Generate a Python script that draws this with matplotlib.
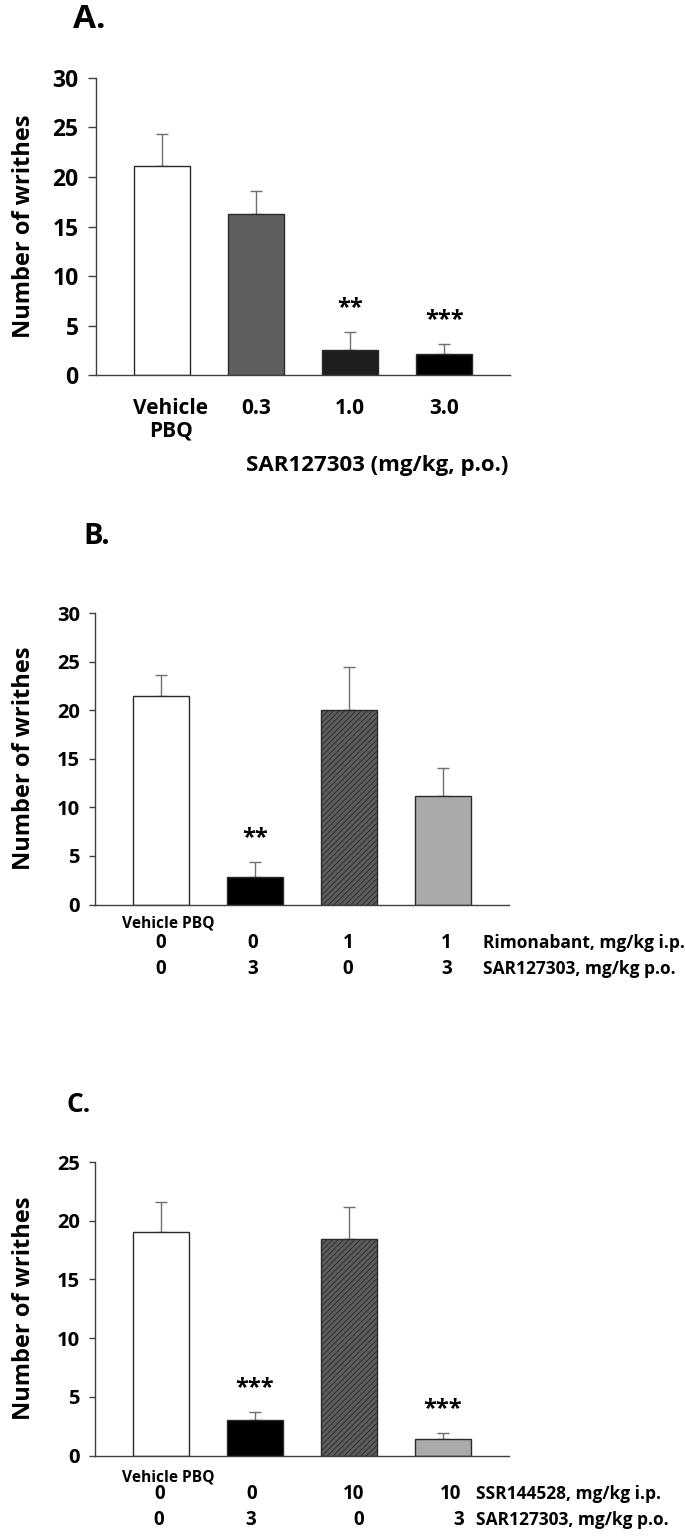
import matplotlib
matplotlib.use("Agg")
import matplotlib.pyplot as plt
import matplotlib.transforms as mtransforms

# ---------------- data ----------------
a_labels = ["Vehicle\nPBQ", "0.3", "1.0", "3.0"]
a_means = [21.1, 16.3, 2.6, 2.1]
a_sem = [3.2, 2.3, 1.8, 1.1]
a_sig = ["", "", "**", "***"]
a_xlabel = "SAR127303 (mg/kg, p.o.)"

b_means = [21.5, 2.8, 20.0, 11.2]
b_sem = [2.1, 1.6, 4.4, 2.8]
b_sig = ["", "**", "", ""]
b_row1 = ["0", "0", "1", "1"]
b_row2 = ["0", "3", "0", "3"]
b_row1_name = "Rimonabant, mg/kg i.p."
b_row2_name = "SAR127303, mg/kg p.o."

c_means = [19.0, 3.0, 18.4, 1.4]
c_sem = [2.6, 0.7, 2.8, 0.5]
c_sig = ["", "***", "", "***"]
c_row1 = ["0", "0", "10", "10"]
c_row2 = ["0", "3", "0", "3"]
c_row1_name = "SSR144528, mg/kg i.p."
c_row2_name = "SAR127303, mg/kg p.o."

vehicle_label = "Vehicle PBQ"
ylabel = "Number of writhes"

# ---------------- style ----------------
W, H = 685, 1538
plt.rcParams['font.family'] = ['Open Sans', 'DejaVu Sans']
plt.rcParams['font.weight'] = 'bold'
plt.rcParams['hatch.linewidth'] = 0.6

fig = plt.figure(figsize=(W / 100, H / 100), dpi=100)

def px_axes(left, top, right, bottom):
    return fig.add_axes([left / W, 1 - bottom / H, (right - left) / W, (bottom - top) / H])

def shift(px):
    return mtransforms.ScaledTranslation(px / 100, 0, fig.dpi_scale_trans)

spine_col = '#404040'
err_col = '#707070'

def style_axes(ax, ymax, step, tick_fs, tlen, tpad):
    ax.set_ylim(0, ymax)
    ax.set_xlim(-0.7, 3.7)
    ax.set_yticks(range(0, ymax + 1, step))
    for s in ['top', 'right']:
        ax.spines[s].set_visible(False)
    for s in ['left', 'bottom']:
        ax.spines[s].set_color(spine_col)
        ax.spines[s].set_linewidth(1.0)
    ax.tick_params(axis='y', direction='out', length=tlen, width=1.0, color=spine_col,
                   labelsize=tick_fs, pad=tpad)
    ax.tick_params(axis='x', length=0)
    for t in ax.get_yticklabels():
        t.set_fontweight('bold')

def draw_bars(ax, means, sem, colors, hatches):
    x = range(len(means))
    bars = ax.bar(x, means, width=0.6, color=colors, edgecolor='#2a2a2a',
                  linewidth=1.0, zorder=2)
    for b, h in zip(bars, hatches):
        if h:
            b.set_hatch(h)
    ax.errorbar(list(x), means, yerr=[[0] * len(means), sem], fmt='none',
                ecolor=err_col, elinewidth=1.0, capsize=4.5, capthick=1.0, zorder=1)

def draw_sig(ax, means, sem, sig, fs):
    for i, (m, e, s) in enumerate(zip(means, sem, sig)):
        if s:
            ax.annotate(s, (i, m + e), xytext=(0, 17), textcoords='offset points',
                        ha='center', va='center', fontsize=fs, fontweight='bold')

def set_ylabel(ax, left, width):
    ax.set_ylabel(ylabel, fontsize=17, fontweight='bold')
    ax.yaxis.set_label_coords((36 - left) / width, 0.5)

# ---------------- Panel A ----------------
axA = px_axes(96, 77.7, 510, 375.3)
draw_bars(axA, a_means, a_sem, ['white', '#5f5f5f', '#1e1e1e', 'black'], [None] * 4)
style_axes(axA, 30, 5, 16.5, 5.5, 7)
axA.set_xticks(range(4))
axA.set_xticklabels(a_labels, fontsize=15, fontweight='bold', linespacing=1.1)
axA.tick_params(axis='x', pad=16)
lab0 = axA.get_xticklabels()[0]
lab0.set_transform(lab0.get_transform() + shift(9))
set_ylabel(axA, 96, 414)
draw_sig(axA, a_means, a_sem, a_sig, 17)
fig.text(508 / W, 1 - 466 / H, a_xlabel, ha='right', va='center', fontsize=16, fontweight='bold')
fig.text(73 / W, 1 - 19 / H, "A.", ha='left', va='center', fontsize=24, fontweight='bold')

# ---------------- Panels B & C ----------------
def lower_panel(top, bottom, means, sem, colors, hatches, sig, ymax, row1, row2, n1, n2,
                y_veh, y_r1, y_r2, x_names, letter, letter_xy, letter_fs, nudges1, nudges2):
    ax = px_axes(95, top, 508.5, bottom)
    draw_bars(ax, means, sem, colors, hatches)
    style_axes(ax, ymax, 5, 14.5, 4, 7)
    ax.set_xticks([])
    set_ylabel(ax, 95, 413.5)
    draw_sig(ax, means, sem, sig, 17)
    tr = mtransforms.blended_transform_factory(ax.transData, fig.transFigure)
    ax.text(0, 1 - y_veh / H, vehicle_label, transform=tr + shift(7),
            ha='center', va='center', fontsize=11.2, fontweight='bold')
    for i, (v1, v2) in enumerate(zip(row1, row2)):
        ax.text(i, 1 - y_r1 / H, v1, transform=tr + shift(nudges1[i]),
                ha='center', va='center', fontsize=13.5, fontweight='bold')
        ax.text(i, 1 - y_r2 / H, v2, transform=tr + shift(nudges2[i]),
                ha='center', va='center', fontsize=13.5, fontweight='bold')
    fig.text(x_names / W, 1 - y_r1 / H, n1, ha='left', va='center', fontsize=12.5, fontweight='bold')
    fig.text(x_names / W, 1 - y_r2 / H, n2, ha='left', va='center', fontsize=12.5, fontweight='bold')
    fig.text(letter_xy[0] / W, 1 - letter_xy[1] / H, letter, ha='left', va='center',
             fontsize=letter_fs, fontweight='bold')
    return ax

bar_cols = ['white', 'black', '#5c5c5c', '#aaaaaa']
hatches = [None, None, '//////', None]

lower_panel(613, 904.5, b_means, b_sem, bar_cols, hatches, b_sig, 30, b_row1, b_row2,
            b_row1_name, b_row2_name, 924, 943, 969, 483, "B.", (83, 536), 21,
            [0, -2, -1, 4], [0, -2, -1, 4])

lower_panel(1162, 1455.5, c_means, c_sem, bar_cols, hatches, c_sig, 25, c_row1, c_row2,
            c_row1_name, c_row2_name, 1477, 1494, 1520, 476, "C.", (66, 1105), 19,
            [-1, -3, 5, 8], [-2, -4, 10, 16])

fig.savefig("out.png", dpi=100)
